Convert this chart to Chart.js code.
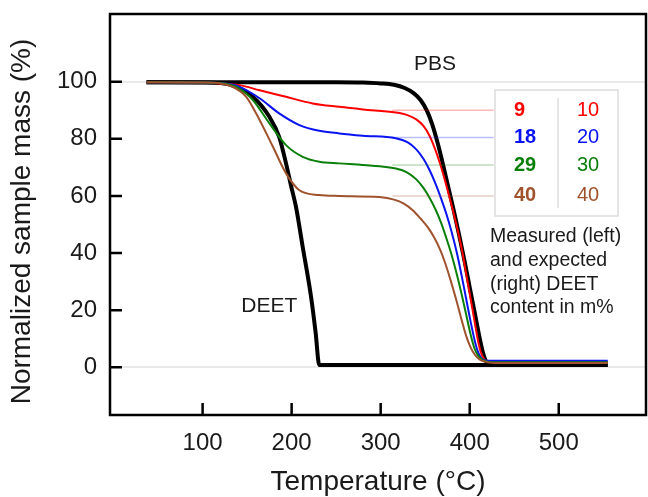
<!DOCTYPE html>
<html>
<head>
<meta charset="utf-8">
<script src="https://cdn.jsdelivr.net/npm/chart.js@4/dist/chart.umd.min.js"></script>
<style>
  html, body { margin: 0; padding: 0; background: #fff; }
</style>
</head>
<body>
<canvas id="tgaChart" width="648" height="497"></canvas>
<script>
// TGA curves, temperature in °C and normalized mass in %
const pbsTemp = [37, 150, 250, 280, 300, 315, 327, 337, 345, 352, 358, 364, 370, 376, 382, 388, 394, 400, 406, 411, 415, 418, 422, 430, 555]
const pbsMass = [99.8, 99.8, 99.8, 99.7, 99.4, 98.9, 97.8, 96, 93.5, 89.8, 85, 78.5, 71, 63, 55, 46.5, 37.5, 28, 18.5, 10.5, 5, 2.3, 1.1, 0.8, 0.8]

const deetTemp = [37, 100, 120, 137.8, 156.4, 175, 186, 193.7, 199.4, 205, 212.4, 221.8, 227, 231, 555]
const deetMass = [99.8, 99.7, 99.5, 98.2, 94.7, 87.7, 80.7, 71.4, 63.5, 56, 42.2, 24.7, 12, 0.8, 0.8]

const redTemp = [37, 100, 119, 141.5, 164, 193.7, 223.6, 253.5, 280, 317, 330, 340, 348, 355, 361, 367, 373, 379, 385, 391, 397, 401, 405.5, 409.5, 413, 416.5, 421, 430, 555]
const redMass = [99.8, 99.7, 99.4, 98.8, 97, 94.7, 92.4, 91.2, 90.3, 89.2, 88.3, 86.8, 84.5, 81, 76.5, 71, 64.5, 57.5, 50, 41.5, 31, 24, 16, 9, 4.8, 2.8, 2.1, 2, 2]

const blueTemp = [37, 100, 120, 141.5, 164, 186, 208.7, 231, 253.5, 280, 317, 330, 340, 348, 355, 362, 368, 374, 380, 386, 391, 396, 401, 405.5, 409.5, 413, 417, 423, 555]
const blueMass = [99.8, 99.7, 99.5, 98.2, 94.2, 88.9, 84.8, 82.8, 81.9, 81.1, 80.2, 78.8, 76.3, 73, 69, 64, 59, 53.5, 47, 39.5, 32, 24, 16, 9.5, 5.2, 3.2, 2.5, 2.3, 2.3]

const greenTemp = [37, 100, 120, 137.8, 156.4, 175, 193.7, 212.4, 231, 253.5, 280, 317, 330, 340, 348, 355, 362, 368, 374, 380, 386, 391, 396, 401, 405.5, 410, 415, 421, 430, 555]
const greenMass = [99.8, 99.7, 99.5, 98.2, 93.6, 85.4, 77.8, 73.7, 72, 71.4, 70.8, 69.6, 68.2, 65.8, 62.8, 59.3, 55, 50.5, 45, 39, 32, 25.5, 18.5, 11.5, 6.5, 3.8, 2.5, 1.9, 1.8, 1.8]

const brownTemp = [37, 100, 120, 134, 149, 164, 179, 193.7, 208.7, 231, 253.5, 298.5, 315, 326, 336, 345, 353, 360, 367, 373, 379, 385, 391, 396, 401, 406, 411, 417, 424, 435, 555]
const brownMass = [99.8, 99.7, 99.4, 98.2, 94.7, 86.6, 77.2, 67.9, 62, 60.3, 60, 59.6, 58.7, 57.3, 55, 52, 49, 45.5, 41, 36, 30, 23.5, 16.5, 11, 7, 4.3, 2.8, 2, 1.6, 1.5, 1.5]

// measured plateaus with the table of DEET content
const measuredLevels = [90, 80.5, 70.8, 60]
const measuredContent = ['9', '18', '29', '40']
const expectedContent = ['10', '20', '30', '40']
const seriesColors = ['#ff0000', '#0a14f0', '#0a800a', '#a0522d']
const guideColors = ['rgba(255,0,0,0.28)', 'rgba(10,20,240,0.28)', 'rgba(10,128,10,0.28)', 'rgba(160,82,45,0.28)']
const guideTemps = [313, 427]

const xTicks = [100, 200, 300, 400, 500]
const yTicks = [0, 20, 40, 60, 80, 100]

const noteLines = ['Measured (left)', 'and expected', '(right) DEET', 'content in m%']

const fontFamily = '"Liberation Sans", Arial, Helvetica, sans-serif'

function toPoints(temps, masses){
    return temps.map((t, i) => ({ x: t, y: masses[i] }))
}

const guideSets = measuredLevels.map((level, i) => ({
    data: guideTemps.map(t => ({ x: t, y: level })),
    borderColor: guideColors[i],
    borderWidth: 1.5,
    tension: 0
}))

const curveSets = [
    { data: toPoints(brownTemp, brownMass), borderColor: seriesColors[3], borderWidth: 2 },
    { data: toPoints(greenTemp, greenMass), borderColor: seriesColors[2], borderWidth: 2 },
    { data: toPoints(blueTemp, blueMass), borderColor: seriesColors[1], borderWidth: 2 },
    { data: toPoints(redTemp, redMass), borderColor: seriesColors[0], borderWidth: 2 },
    { data: toPoints(deetTemp, deetMass), borderColor: '#000', borderWidth: 4 },
    { data: toPoints(pbsTemp, pbsMass), borderColor: '#000', borderWidth: 4 }
]

// frame, inward ticks, curve labels and the content table
const decorations = {
    id: 'decorations',
    afterDatasetsDraw(chart){
        const { ctx, chartArea: area, scales: { x, y } } = chart
        ctx.save()

        ctx.strokeStyle = '#000'
        ctx.lineWidth = 2.5
        ctx.strokeRect(area.left, area.top, area.right - area.left, area.bottom - area.top)

        ctx.beginPath()
        yTicks.forEach(v => {
            const py = y.getPixelForValue(v)
            ctx.moveTo(area.left, py)
            ctx.lineTo(area.left + 12, py)
        })
        xTicks.forEach(v => {
            const px = x.getPixelForValue(v)
            ctx.moveTo(px, area.bottom)
            ctx.lineTo(px, area.bottom - 12)
        })
        ctx.stroke()

        ctx.fillStyle = '#1a1a1a'
        ctx.textAlign = 'center'
        ctx.textBaseline = 'middle'
        ctx.font = '21px ' + fontFamily
        ctx.fillText('PBS', x.getPixelForValue(361), y.getPixelForValue(106.2))
        ctx.fillText('DEET', x.getPixelForValue(175), y.getPixelForValue(21.5))

        // table box
        const boxLeft = 495, boxTop = 90, boxW = 123, boxH = 126
        ctx.fillStyle = '#fff'
        ctx.fillRect(boxLeft, boxTop, boxW, boxH)
        ctx.strokeStyle = '#dcdcdc'
        ctx.lineWidth = 1.5
        ctx.strokeRect(boxLeft, boxTop, boxW, boxH)
        ctx.beginPath()
        ctx.moveTo(558, boxTop + 8)
        ctx.lineTo(558, boxTop + boxH - 8)
        ctx.stroke()

        measuredLevels.forEach((level, i) => {
            const py = y.getPixelForValue(level)
            ctx.fillStyle = seriesColors[i]
            ctx.textAlign = 'left'
            ctx.font = 'bold 20px ' + fontFamily
            ctx.fillText(measuredContent[i], 514, py)
            ctx.textAlign = 'center'
            ctx.font = '20px ' + fontFamily
            ctx.fillText(expectedContent[i], 588, py)
        })

        ctx.fillStyle = '#1a1a1a'
        ctx.textAlign = 'left'
        ctx.font = '19.5px ' + fontFamily
        noteLines.forEach((line, i) => {
            ctx.fillText(line, 490, 237 + i * 23.7)
        })

        ctx.restore()
    }
}

const tgaChart = new Chart(document.getElementById('tgaChart'), {
    type: 'line',
    data: { datasets: [...guideSets, ...curveSets] },
    options: {
        responsive: false,
        animation: false,
        devicePixelRatio: 1,
        layout: { padding: { top: 14, right: 2, left: 0, bottom: 0 } },
        elements: {
            point: { radius: 0 },
            line: { cubicInterpolationMode: 'monotone', fill: false }
        },
        plugins: {
            legend: { display: false },
            tooltip: { enabled: false }
        },
        scales: {
            x: {
                type: 'linear',
                min: -4,
                max: 598,
                afterBuildTicks: (scale) => { scale.ticks = xTicks.map(v => ({ value: v })) },
                afterFit: (scale) => {
                    scale.height = 82
                    scale.paddingLeft = 0
                    scale.paddingRight = 0
                },
                grid: { display: false, drawTicks: false },
                border: { display: false },
                ticks: {
                    color: '#1a1a1a',
                    padding: 14,
                    maxRotation: 0,
                    font: { family: fontFamily, size: 24 }
                },
                title: {
                    display: true,
                    text: 'Temperature (°C)',
                    color: '#1a1a1a',
                    font: { family: fontFamily, size: 28, lineHeight: 1 },
                    padding: { top: 0, bottom: 1 }
                }
            },
            y: {
                type: 'linear',
                min: -16.7,
                max: 123.7,
                afterBuildTicks: (scale) => { scale.ticks = yTicks.map(v => ({ value: v })) },
                afterFit: (scale) => {
                    scale.width = 110
                    scale.paddingTop = 0
                    scale.paddingBottom = 0
                },
                grid: {
                    drawTicks: false,
                    lineWidth: 2,
                    color: (c) => (c.tick && (c.tick.value === 0 || c.tick.value === 100)) ? '#e9e9e9' : 'rgba(0,0,0,0)'
                },
                border: { display: false },
                ticks: {
                    color: '#1a1a1a',
                    padding: 13,
                    font: { family: fontFamily, size: 24 }
                },
                title: {
                    display: true,
                    // trailing en space nudges the rotated title down a little
                    text: 'Normalized sample mass (%)\u2002',
                    color: '#1a1a1a',
                    font: { family: fontFamily, size: 28, lineHeight: 1 },
                    padding: { top: 8, bottom: 0 }
                }
            }
        }
    },
    plugins: [decorations]
})
</script>
</body>
</html>
